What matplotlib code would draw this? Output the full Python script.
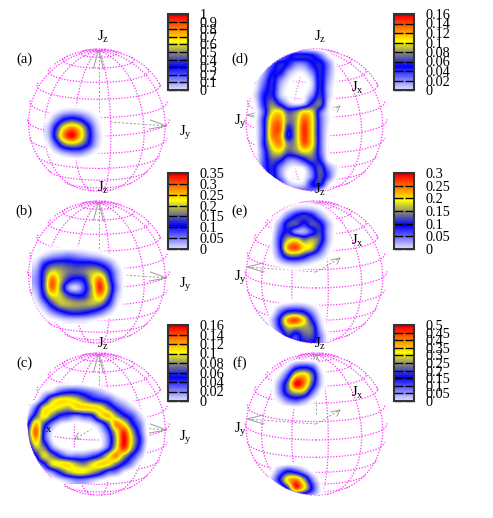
import numpy as np
import matplotlib
matplotlib.use('Agg')
import matplotlib.pyplot as plt
from matplotlib.cm import ScalarMappable
from matplotlib.colors import LinearSegmentedColormap, Normalize
from matplotlib.patches import Circle

plt.rcParams['font.family'] = ['Liberation Serif', 'DejaVu Serif']
plt.rcParams['mathtext.fontset'] = 'custom'
plt.rcParams['mathtext.rm'] = 'Liberation Serif'
plt.rcParams['mathtext.it'] = 'Liberation Serif'

# sphere grid, degrees
lats = [-75, -60, -45, -30, -15, 0, 15, 30, 45, 60, 75]
lons = [-170, -140, -110, -80, -50, -20, 10, 40, 70, 100, 130, 160]
elev = np.radians(13)

# colour bar tick labels
ticks_a = ['0', '0.1', '0.2', '0.3', '0.4', '0.5', '0.6', '0.7', '0.8', '0.9', '1']
ticks_b = ['0', '0.05', '0.1', '0.15', '0.2', '0.25', '0.3', '0.35']
ticks_c = ['0', '0.02', '0.04', '0.06', '0.08', '0.1', '0.12', '0.14', '0.16']
ticks_d = ticks_c
ticks_e = ['0', '0.05', '0.1', '0.15', '0.2', '0.25', '0.3']
ticks_f = ['0', '0.05', '0.1', '0.15', '0.2', '0.25', '0.3', '0.35', '0.4', '0.45', '0.5']

# intensity maps, units of 0.01, sampled every 8 px
map_a = [[0, 0, 1, 1, 1, 0, 0, 0, 0],
         [1, 5, 10, 12, 10, 6, 2, 0, 0],
         [4, 18, 35, 42, 35, 20, 7, 1, 0],
         [10, 36, 68, 82, 68, 38, 12, 2, 0],
         [10, 42, 82, 100, 75, 42, 14, 3, 0],
         [5, 24, 50, 60, 52, 34, 12, 2, 0],
         [1, 7, 15, 20, 20, 12, 4, 1, 0],
         [0, 0, 1, 2, 2, 1, 0, 0, 0]]

map_b = [[0, .5, 1, 1, 1, 1, 1, .5, .3, 0, 0, 0],
         [1, 3, 5, 6, 7, 6, 5, 4, 3, 1.5, .5, 0],
         [3, 10, 14, 15, 14, 13, 13, 13, 11, 7, 2.5, .5],
         [5, 14, 22, 20, 17, 16, 17, 20, 20, 13, 5, 1],
         [6, 15, 30, 21, 13, 10, 12, 22, 30, 17, 6, 1],
         [5, 15, 30, 19, 6, 3, 9, 20, 33, 20, 7, 1],
         [3, 12, 22, 21, 15, 12, 13, 20, 27, 17, 5, 1],
         [1.5, 6, 14, 20, 20, 19, 19, 20, 18, 11, 3, .5],
         [.5, 2, 6, 10, 13, 14, 13, 11, 8, 4, 1, 0],
         [0, .3, 1, 2, 3, 3, 3, 2, 1, .5, 0, 0]]

map_c = [[0, 0, 0, 0, .5, .5, .5, .5, 0, 0, 0, 0, 0, 0, 0, 0],
         [0, 0, 1, 2, 4, 5, 5, 4, 3, 2, 1, .3, 0, 0, 0, 0],
         [0, .5, 4, 9, 11, 11, 10, 8, 6, 5, 4, 2, 1, .3, 0, 0],
         [.5, 4, 10, 11, 10, 9, 11, 11.5, 11.5, 11, 8, 5, 3, 1.5, .3, 0],
         [2, 7, 11, 8, 5, 4, 3, 4, 5, 10, 12, 9, 6, 4, 1.5, .2],
         [5, 12, 7, 3, 1, .5, .3, .5, 1, 3, 7, 13, 11, 6, 3, .3],
         [7, 14, 5, 1, .2, 0, 0, 0, .2, 1, 4, 10, 15, 9, 4, .3],
         [6, 12, 5, 1, 0, 0, 0, 0, 0, .5, 3, 9, 16, 10, 5, .6],
         [3, 9, 8, 3, 1, .5, .2, .2, .5, 1, 4, 10, 15, 9, 4, .3],
         [1, 5, 10, 8, 5, 3, 3, 3, 4, 6, 10, 13, 9, 5, 2, 0],
         [0, 2, 5, 10, 11, 11, 9, 8, 10, 11.5, 11, 8, 5, 2.5, .3, 0],
         [0, 0, 1.5, 3, 6, 9, 10.5, 10.5, 9, 7, 4, 3, 1, .2, 0, 0],
         [0, 0, 0, .3, 1, 2, 3, 3, 2, 1, .3, 0, 0, 0, 0, 0]]

map_d = [[0, 0, 0, 0, 0, .2, .2, .2, .2, 0, 0, 0, 0],
         [0, 0, 0, .5, 2, 4.5, 6, 6, 5.5, 3.5, 1, .2, 0],
         [0, 0, 1, 3.5, 6, 5, 3, 3, 5, 6, 3, .5, 0],
         [0, .2, 2, 5, 5.5, 2.5, 1, 1, 3, 6, 3, .6, 0],
         [0, .7, 3, 6, 3, 1, .3, .3, 1.5, 6, 2.5, .5, 0],
         [0, 1, 4, 6, 2, .5, .2, .3, 1.5, 6, 2, .3, 0],
         [0, 1.5, 5, 6, 2, .5, .3, .5, 3, 6.5, 2, .2, 0],
         [0, 1, 5, 8, 5, 2, 1, 2, 6, 7.5, 1.5, .2, 0],
         [0, .5, 4, 10, 11, 7, 8, 11, 10, 4, 1, .2, 0],
         [0, .7, 5, 12, 13, 8, 9, 14, 11, 4, 1, .2, 0],
         [0, .7, 5, 13, 14, 6, 9, 15, 11, 4, .8, 0, 0],
         [0, .7, 5, 13, 13, 5, 9, 15, 11, 4, .6, 0, 0],
         [0, .5, 5, 11, 13, 8, 9, 14, 11, 4, .5, 0, 0],
         [0, .5, 4, 9, 10, 7, 8, 10, 9, 4, .5, 0, 0],
         [0, .5, 4, 7, 6, 3, 3, 5, 7, 5, .8, 0, 0],
         [0, .3, 4, 6, 3, 1, .5, 1, 4, 7, 3, 1, 0],
         [0, .2, 3, 6, 3, .5, .2, .6, 3, 7, 4, .8, 0],
         [0, 0, 1.5, 5, 5, 2, 1, 1.5, 5, 6, 1.5, 0, 0],
         [0, 0, 0, 1, 3, 4, 4, 4, 3, 1, 0, 0, 0]]

map_e_top = [[0, 0, 0, 0, .2, .3, .2, 0, 0, 0],
             [0, 0, .2, 1, 2.5, 3, 2.5, 1.2, .3, 0],
             [0, .2, 1.5, 6, 10, 12, 10, 5, 1.5, .2],
             [0, .6, 5, 12, 13, 9, 13, 11, 4, .7],
             [0, 1, 7, 11, 5, 4, 8, 12, 4, .7],
             [.1, 1.5, 9, 18, 20, 15, 17, 13, 4, .5],
             [.1, 1.5, 9, 24, 27, 21, 18, 9, 2.5, .3],
             [0, 1, 6, 13, 14, 11, 7, 4, 1, 0],
             [0, .3, 1.5, 3, 3.5, 2.5, 1.5, .5, 0, 0],
             [0, 0, 0, .2, .3, .2, 0, 0, 0, 0]]

map_e_low = [[0, 0, 0, 0, .2, 0, 0, 0, 0],
             [0, .2, 1, 2, 2.5, 2, 1, .3, 0],
             [0, 1, 6, 11, 12, 10, 5, 1.2, .2],
             [.1, 3, 11, 24, 27, 20, 10, 2.5, .3],
             [0, 2, 9, 17, 16, 16, 14, 4, .5],
             [0, .5, 4, 11, 8, 13, 13, 6, 1],
             [0, 0, 1, 6, 9, 10, 10, 6, 1]]

map_f_top = [[0, 0, .2, 1, 1.5, 1, .2, 0],
             [0, .5, 5, 15, 18, 14, 3, .3],
             [.5, 4, 15, 35, 38, 25, 6, .5],
             [1, 9, 24, 50, 42, 22, 6, .5],
             [1, 9, 22, 30, 28, 12, 2.5, .2],
             [.5, 4, 10, 13, 9, 3, .5, 0],
             [0, .5, 1, 1.5, 1, .2, 0, 0]]

map_f_low = [[0, .3, 1, 1.5, 1, .5, 0, 0, 0],
             [.3, 2, 10, 18, 15, 8, 2, .3, 0],
             [.5, 5, 18, 36, 42, 28, 10, 1.5, .1],
             [0, 1, 6, 20, 46, 34, 16, 3, .3],
             [0, 0, .3, 2, 5, 8, 6, 2, .3],
             [0, 0, 0, 0, .3, .5, .3, 0, 0]]

W, H = 493, 518
R = 71
# low end fades out so the grid shows through where the map is empty
cmap = LinearSegmentedColormap.from_list(
    'pal', [(0, (1, 1, 1, 0)), (0.03, (1, 1, 1, 1)), (1 / 3, (0, 0, 1, 1)),
            (2 / 3, (1, 1, 0, 1)), (1, (1, 0, 0, 1))], N=256)
bar_cmap = LinearSegmentedColormap.from_list('bar', ['#f8f8ff', '#0000ff', '#ffff00', '#ff0000'], N=256)

fig = plt.figure(figsize=(W / 100, H / 100), dpi=100)
ax = fig.add_axes([0, 0, 1, 1])
ax.axis('off')


def draw_grid(cx, cy):
    t = np.radians(np.linspace(0, 360, 361))
    for lat in np.radians(lats):
        px = np.cos(lat) * np.sin(t)
        py = np.sin(lat) * np.cos(elev) - np.cos(lat) * np.cos(t) * np.sin(elev)
        d = np.cos(lat) * np.cos(t) * np.cos(elev) + np.sin(lat) * np.sin(elev)
        px[d < -0.05] = np.nan
        ax.plot(cx + R * px, cy - R * py, color='#ff33ff', lw=0.9, ls=(0, (1, 1.3)), zorder=1)
    u = np.radians(np.linspace(-90, 90, 181))
    for lon in np.radians(lons):
        px = np.cos(u) * np.sin(lon)
        py = np.sin(u) * np.cos(elev) - np.cos(u) * np.cos(lon) * np.sin(elev)
        d = np.cos(u) * np.cos(lon) * np.cos(elev) + np.sin(u) * np.sin(elev)
        px = np.where(d < -0.05, np.nan, px)
        ax.plot(cx + R * px, cy - R * py, color='#ff33ff', lw=0.9, ls=(0, (1, 1.3)), zorder=1)


def draw_axes(cx, cy, right):
    c = '#999999'
    if not right:
        ax.plot([cx, cx], [cy - 8, cy - 70], color=c, lw=0.7, ls=(0, (2, 2)), zorder=2)
        ax.plot([cx - 5, cx, cx + 5], [cy - 52, cy - 70, cy - 51], color=c, lw=0.7, zorder=2)
        ax.plot([cx + 12, cx + 68], [cy + 2, cy + 6], color=c, lw=0.7, ls=(0, (2, 2)), zorder=2)
        ax.plot([cx + 52, cx + 68, cx + 51], [cy, cy + 6, cy + 9], color=c, lw=0.7, zorder=2)
        ax.plot([cx - 3, cx - 24], [cy + 3, cy + 15], color=c, lw=0.7, ls=(0, (2, 2)), zorder=2)
        ax.plot([cx - 18, cx - 24, cx - 20], [cy + 15, cy + 15, cy + 9], color=c, lw=0.7, zorder=2)
    else:
        ax.plot([cx, cx], [cy - 10, cy - 70], color=c, lw=0.7, ls=(0, (2, 2)), zorder=2)
        ax.plot([cx - 3, cx, cx + 3], [cy - 62, cy - 70, cy - 62], color=c, lw=0.7, zorder=2)
        ax.plot([cx, cx - 69], [cy, cy - 5], color=c, lw=0.7, ls=(0, (2, 2)), zorder=2)
        ax.plot([cx - 53, cx - 69, cx - 52], [cy - 9, cy - 5, cy], color=c, lw=0.7, zorder=2)
        ax.plot([cx, cx + 24], [cy, cy - 14], color=c, lw=0.7, ls=(0, (2, 2)), zorder=2)
        ax.plot([cx + 15, cx + 24, cx + 21], [cy - 12, cy - 14, cy - 8], color=c, lw=0.7, zorder=2)


def draw_map(values, x0, y0, top, cx, cy):
    z = np.array(values, dtype=float) * 0.01
    ny, nx = z.shape
    ext = (x0 - 4, x0 - 4 + 8 * nx, y0 + 8 * ny - 4, y0 - 4)
    im = ax.imshow(z, extent=ext, cmap=cmap, vmin=0, vmax=top,
                   interpolation='catrom', interpolation_stage='data', aspect='auto', zorder=3)
    im.set_clip_path(Circle((cx, cy), R, transform=ax.transData))


def draw_bar(labels, x, y, w, h):
    vals = [float(s) for s in labels]
    cax = fig.add_axes([x / W, 1 - (y + h) / H, w / W, h / H])
    cb = fig.colorbar(ScalarMappable(Normalize(vals[0], vals[-1]), bar_cmap), cax=cax)
    cb.set_ticks(vals, labels=labels)
    cb.minorticks_off()
    cb.solids.set_edgecolor('face')
    cax.tick_params(axis='y', direction='in', left=True, right=True, length=6.5, width=1,
                    pad=8.5, labelsize=10.3, colors='black')
    cb.outline.set_linewidth(1.5)
    cb.outline.set_edgecolor('#333333')


def label(x, y, s, z=6):
    ax.text(x, y, s, ha='center', va='center', fontsize=10.5, zorder=z)


cx_l, cx_r = 98.5, 316
cys = [120, 272, 424]

for cy in cys:
    draw_grid(cx_l, cy)
    draw_axes(cx_l, cy, False)
    draw_grid(cx_r, cy)
    draw_axes(cx_r, cy, True)

draw_map(map_a, 48, 104, 1.0, cx_l, cys[0])
draw_map(map_b, 36, 248, 0.35, cx_l, cys[1])
draw_map(map_c, 28, 384, 0.16, cx_l, cys[2])
draw_map(map_d, 248, 48, 0.16, cx_r, cys[0])
draw_map(map_e_top, 264, 200, 0.3, cx_r, cys[1])
draw_map(map_e_low, 264, 296, 0.3, cx_r, cys[1])
draw_map(map_f_top, 272, 360, 0.5, cx_r, cys[2])
draw_map(map_f_low, 264, 464, 0.5, cx_r, cys[2])

ax.set_xlim(0, W)
ax.set_ylim(H, 0)

for s, y in zip(['(a)', '(b)', '(c)'], [59, 211, 363]):
    label(24, y, s)
for s, y in zip(['(d)', '(e)', '(f)'], [59, 211, 363]):
    label(240, y, s)
for y in [37, 188, 344]:
    label(103, y, r'$\mathrm{J_z}$')
for y in [37, 190, 344]:
    label(320, y, r'$\mathrm{J_z}$')
for y in [133, 285, 438]:
    label(185, y, r'$\mathrm{J_y}$')
for y in [122, 278, 430]:
    label(240, y, r'$\mathrm{J_y}$')
for y in [88, 241, 393]:
    label(357, y, r'$\mathrm{J_x}$')
label(41, 428, 'J', z=2)
ax.text(49, 430, 'x', ha='center', va='center', fontsize=7.5, zorder=6)

draw_bar(ticks_a, 167.5, 14, 20, 76)
draw_bar(ticks_b, 167.5, 173, 20, 76)
draw_bar(ticks_c, 167.5, 325, 20, 76)
draw_bar(ticks_d, 394, 14, 20, 76)
draw_bar(ticks_e, 394, 173, 20, 76)
draw_bar(ticks_f, 394, 325, 20, 76)

fig.savefig('out.png', dpi=100)
